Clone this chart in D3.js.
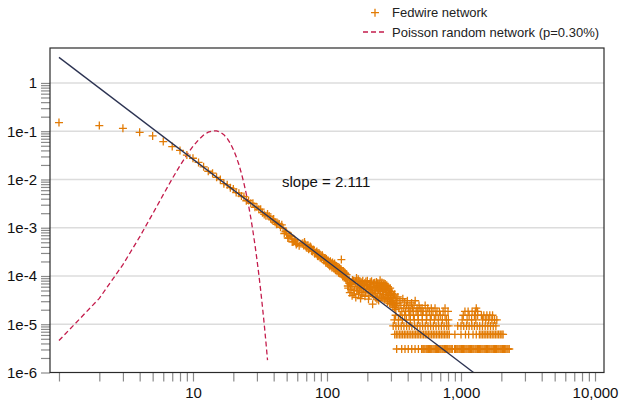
<!DOCTYPE html>
<html>
<head>
<meta charset="utf-8">
<script src="https://cdn.jsdelivr.net/npm/d3@7"></script>
<style>
    body { margin: 0; background: #fff; }
    svg { display: block; font-family: "Liberation Sans", Arial, sans-serif; }
</style>
</head>
<body>
<div id="box-div"></div>
<script>
const svgname = 'degree-svg'

// Fedwire degree distribution, low degrees (share of nodes)
const lowDegree = [1, 2, 3, 4, 5, 6, 7, 8, 9, 10]
const lowShare = [0.151, 0.131, 0.115, 0.095, 0.080, 0.061, 0.048, 0.040, 0.032, 0.0275]

// degrees 11 - 140, [degree, share]
const midPoints = [
    [11, 0.0225], [12, 0.0183], [13, 0.0148], [14, 0.0135], [15, 0.0111], [16, 0.00995], [17, 0.00818],
    [18, 0.00776], [19, 0.00676], [20, 0.00637], [21, 0.00536], [22, 0.0052], [23, 0.00452], [24, 0.00443],
    [25, 0.00362], [26, 0.00366], [27, 0.00322], [28, 0.0032], [29, 0.00265], [30, 0.0027], [31, 0.00241],
    [32, 0.00242], [33, 0.00205], [34, 0.00189], [35, 0.00178], [36, 0.00193], [37, 0.00174], [38, 0.00153],
    [39, 0.00145], [40, 0.00151], [41, 0.0013], [42, 0.00118], [43, 0.00123], [44, 0.0012], [45, 0.00102],
    [46, 0.00115], [47, 0.00098], [48, 0.00076], [49, 0.000836], [50, 0.000764], [51, 0.00061], [52, 0.000612],
    [53, 0.000692], [54, 0.000665], [55, 0.000508], [56, 0.000512], [57, 0.000566], [58, 0.000533], [59, 0.000449],
    [60, 0.000474], [62, 0.000423], [64, 0.000465], [66, 0.000478], [68, 0.000504], [70, 0.000394], [72, 0.000426],
    [74, 0.000384], [76, 0.000389], [78, 0.000321], [80, 0.000341], [82, 0.000295], [84, 0.000322], [86, 0.000255],
    [88, 0.000279], [90, 0.000248], [92, 0.000272], [94, 0.000216], [96, 0.000237], [98, 0.000189], [100, 0.000213],
    [102, 0.000209], [104, 0.000171], [106, 0.000202], [108, 0.000165], [110, 0.000191], [112, 0.00016], [114, 0.000181],
    [116, 0.000132], [118, 0.000161], [120, 0.000145], [122, 0.000116], [124, 0.000148], [126, 0.000125], [128, 0.000219],
    [128, 0.000129], [130, 0.000106], [132, 0.000127], [134, 0.000105], [136, 0.000116], [138, 0.0000897], [140, 0.000107],
    [67, 0.00043], [69, 0.00045], [71, 0.00038], [73, 0.00036], [75, 0.00041], [77, 0.00033], [79, 0.00035],
    [81, 0.00029], [83, 0.00031], [85, 0.00026], [87, 0.0003], [89, 0.00024], [91, 0.00023], [93, 0.00025],
    [95, 0.00021], [97, 0.00022], [99, 0.000225], [101, 0.00018], [103, 0.000195], [105, 0.00016], [107, 0.000185],
    [109, 0.000148], [111, 0.000172], [113, 0.000142], [115, 0.000165], [117, 0.000148], [119, 0.000125], [121, 0.000152],
    [123, 0.000131], [125, 0.000112], [127, 0.00014], [129, 0.000118], [131, 0.000098], [133, 0.000122], [135, 0.000094],
    [137, 0.000112], [139, 0.000085]
]

// bump between degree 140 and 330
const bumpPoints = [
    [142, 7.9e-5], [144, 5.6e-5], [146, 8.5e-5], [148, 4.5e-5], [150, 6.6e-5], [152, 7.3e-5], [154, 3.9e-5],
    [156, 6.0e-5], [158, 8.0e-5], [160, 5.0e-5], [162, 6.8e-5], [164, 3.6e-5], [166, 9.1e-5], [168, 5.4e-5],
    [170, 7.0e-5], [172, 4.2e-5], [174, 6.2e-5], [176, 7.6e-5], [178, 3.4e-5], [180, 5.7e-5], [183, 7.2e-5],
    [186, 4.6e-5], [189, 6.4e-5], [192, 3.8e-5], [195, 7.7e-5], [198, 5.2e-5], [201, 6.6e-5], [204, 3.3e-5],
    [207, 5.9e-5], [210, 7.4e-5], [213, 4.4e-5], [216, 6.1e-5], [219, 2.6e-5], [222, 7.1e-5], [225, 4.9e-5],
    [228, 5.8e-5], [231, 3.6e-5], [234, 7.5e-5], [237, 4.3e-5], [240, 6.3e-5], [243, 3.1e-5], [246, 5.5e-5],
    [249, 8.2e-5], [252, 4.8e-5], [255, 6.5e-5], [258, 3.5e-5], [261, 5.9e-5], [264, 4.1e-5], [267, 7.0e-5],
    [270, 3.2e-5], [273, 5.3e-5], [276, 4.5e-5], [279, 6.4e-5], [282, 2.9e-5], [285, 6.0e-5], [288, 3.9e-5],
    [291, 5.1e-5], [294, 3.0e-5], [297, 4.4e-5], [300, 2.6e-5], [303, 4.8e-5], [306, 3.4e-5], [310, 2.4e-5],
    [314, 4.0e-5], [318, 2.2e-5], [322, 3.1e-5], [326, 2.0e-5], [330, 2.7e-5],
    [143, 6.2e-5], [147, 7.0e-5], [151, 5.2e-5], [155, 8.3e-5], [159, 4.2e-5], [163, 7.6e-5], [167, 4.9e-5],
    [171, 8.6e-5], [175, 5.1e-5], [179, 6.8e-5], [182, 4.0e-5], [185, 8.0e-5], [188, 5.5e-5], [191, 7.1e-5],
    [194, 4.7e-5], [197, 6.2e-5], [200, 8.0e-5], [203, 5.3e-5], [206, 4.0e-5], [209, 6.8e-5], [212, 5.6e-5],
    [215, 7.8e-5], [218, 4.6e-5], [221, 6.0e-5], [224, 3.8e-5], [227, 7.2e-5], [230, 5.0e-5], [233, 6.0e-5],
    [236, 3.3e-5], [239, 7.0e-5], [242, 5.2e-5], [245, 6.8e-5], [248, 4.0e-5], [251, 6.2e-5], [254, 3.7e-5],
    [257, 7.3e-5], [260, 5.0e-5], [263, 6.5e-5], [266, 3.4e-5], [269, 5.7e-5], [272, 6.8e-5], [275, 3.6e-5],
    [278, 5.0e-5], [281, 4.2e-5], [284, 3.3e-5], [287, 5.4e-5], [290, 4.0e-5], [293, 2.7e-5], [296, 5.6e-5],
    [299, 3.6e-5], [302, 3.0e-5], [305, 4.3e-5], [308, 2.8e-5], [312, 3.5e-5], [316, 2.6e-5], [320, 4.2e-5],
    [324, 2.4e-5], [328, 3.4e-5]
]

// tail: share of a single node
const nodeShare = 3.07e-6
// degrees held by exactly one, two, three, four, five nodes
const onceDegrees = [331, 361, 382, 404, 429, 454, 481, 508, 519, 528, 538, 550, 560, 571, 582, 594, 605, 618, 630,
    643, 655, 668, 681, 695, 708, 723, 736, 752, 766, 782, 796, 813, 828, 845, 861, 895, 912, 931, 948, 968, 986,
    1007, 1026, 1047, 1067, 1089, 1109, 1132, 1153, 1178, 1199, 1225, 1247, 1274, 1297, 1324, 1349, 1377, 1403, 1432,
    1459, 1489, 1517, 1549, 1578, 1611, 1641, 1675, 1706, 1742, 1774, 1811, 1845, 1884, 1919, 1959, 1995, 2037,
    2075, 2118, 2158, 2203, 2244, 2291]
const twiceDegrees = [320, 329, 338, 348, 357, 367, 378, 388, 399, 410, 422, 434, 446, 458, 471, 484, 498, 512, 526,
    541, 556, 571, 587, 604, 621, 638, 656, 675, 693, 713, 733, 753, 774, 796, 818, 900, 1000, 1080, 1140, 1230,
    1300, 1371, 1409, 1449, 1489, 1531, 1574, 1618, 1663, 1710, 1758, 1807, 1858, 1910, 1963, 2018, 2061]
const thriceDegrees = [312, 327, 342, 358, 375, 393, 411, 430, 451, 472, 494, 517, 541, 567, 594, 622, 651, 682,
    714, 748, 783, 810, 945, 1000, 1048, 1100, 1150, 1205, 1260, 1320, 1380, 1445, 1515, 1585, 1660, 1740, 1820]
const fourDegrees = [318, 341, 365, 391, 419, 448, 480, 514, 551, 590, 632, 677, 725, 777, 805, 1020, 1110, 1200,
    1290, 1450, 1530, 1610, 1700, 1780, 1850]
const fiveDegrees = [325, 352, 380, 410, 442, 477, 515, 556, 600, 648, 700, 760, 1040, 1150, 1260, 1330, 1420,
    1480, 1560, 1640, 1720]
// [degree, number of nodes] for the rest of the tail
const tailCounts = [
    [332, 9], [338, 12], [344, 7], [350, 10], [356, 8], [362, 6], [368, 11], [374, 7], [380, 9], [386, 6], [392, 8],
    [398, 10], [404, 7], [410, 6], [416, 8], [422, 6], [428, 9], [434, 7], [440, 6], [446, 8], [455, 10], [462, 6],
    [470, 7], [478, 6], [486, 8], [494, 7], [503, 6], [512, 7], [522, 6], [540, 8], [548, 6], [565, 7], [580, 6],
    [600, 7], [618, 6], [640, 7], [662, 6], [690, 6], [735, 6], [760, 7], [800, 6], [1070, 6], [1130, 6],
    [1210, 6], [1280, 6], [1300, 7], [1330, 6]
]

// Poisson random network (p=0.30%), degree 1 - 36
const poissonDegree = d3.range(1, 37)
const poissonShare = [4.59e-6, 3.44e-5, 1.72e-4, 6.45e-4, 1.94e-3, 4.84e-3, 1.04e-2, 1.94e-2, 3.24e-2, 4.86e-2,
    6.63e-2, 8.29e-2, 9.56e-2, 0.102, 0.102, 9.60e-2, 8.47e-2, 7.06e-2, 5.58e-2, 4.18e-2, 2.99e-2, 2.04e-2,
    1.33e-2, 8.30e-3, 4.98e-3, 2.87e-3, 1.60e-3, 8.55e-4, 4.42e-4, 2.21e-4, 1.07e-4, 5.02e-5, 2.28e-5, 1.01e-5,
    4.31e-6, 1.80e-6]

// power law fit
const fitSlope = 2.111
const fitScale = 3.39
const fitDegree = [1, 1300]

// axis ticks
const xLabelTicks = [10, 100, 1000, 10000]
const yLabelTicks = [1, 1e-1, 1e-2, 1e-3, 1e-4, 1e-5, 1e-6]

const legendItems = ['Fedwire network', 'Poisson random network (p=0.30%)']

const colors = {
    fed: '#e27b05',
    poisson: '#c41c4c',
    fit: '#2c3352',
    grid: '#dcdcdc',
    tick: '#8a8a8a',
    frame: '#2a2a2a'
}

let dms = {
    width: 620,
    height: 401,
    margin: { top: 48, right: 16, bottom: 28.5, left: 50 }
}
dms.chartWidth = dms.width - dms.margin.left - dms.margin.right
dms.chartHeight = dms.height - dms.margin.top - dms.margin.bottom

const box = d3.select('#box-div').append('svg')
    .attr('id', svgname)
    .attr('width', dms.width)
    .attr('height', dms.height)

const content = box.append('g')
    .attr('transform', `translate(${dms.margin.left}, ${dms.margin.top})`)

// scales
const xScale = d3.scaleLog()
    .domain([0.857, 11670])
    .range([0, dms.chartWidth])
const yScale = d3.scaleLog()
    .domain([1e-6, 5.3])
    .range([dms.chartHeight, 0])

// minor ticks 1..9 per decade
const xMinor = []
for (let e = 0; e < 4; e++) for (let m = 1; m <= 9; m++) xMinor.push(m * Math.pow(10, e))
xMinor.push(10000)
const yMinor = []
for (let e = -6; e < 0; e++) for (let m = 1; m <= 9; m++) yMinor.push(m * Math.pow(10, e))
yMinor.push(1)

content.append('defs').append('clipPath').attr('id', 'plot-clip')
    .append('rect')
    .attr('width', dms.chartWidth)
    .attr('height', dms.chartHeight)

// gridlines
content.append('g')
    .selectAll('line')
    .data(yLabelTicks.slice(0, 6))
    .enter()
    .append('line')
    .attr('x1', 0)
    .attr('x2', dms.chartWidth)
    .attr('y1', d => yScale(d))
    .attr('y2', d => yScale(d))
    .attr('stroke', colors.grid)
    .attr('stroke-width', 1.5)

// tick marks
const xTickAxis = d3.axisBottom(xScale).tickValues(xMinor).tickSize(9).tickFormat('')
const yTickAxis = d3.axisLeft(yScale).tickValues(yMinor).tickSize(9).tickFormat('')
content.append('g')
    .attr('class', 'axis-x')
    .attr('transform', `translate(0, ${dms.chartHeight})`)
    .call(xTickAxis)
content.append('g')
    .attr('class', 'axis-y')
    .call(yTickAxis)
d3.selectAll('.axis-x .domain, .axis-y .domain').remove()
d3.selectAll('.axis-x .tick line, .axis-y .tick line')
    .attr('stroke', colors.tick)
    .attr('stroke-width', 1.2)

// tick labels
const xLabelAxis = d3.axisBottom(xScale).tickValues(xLabelTicks).tickSize(0).tickPadding(15).tickFormat(d3.format(','))
const yLabelAxis = d3.axisLeft(yScale).tickValues(yLabelTicks).tickSize(0).tickPadding(13)
    .tickFormat(d => d === 1 ? '1' : '1e' + Math.round(Math.log10(d)))
content.append('g')
    .attr('class', 'label-x')
    .attr('transform', `translate(0, ${dms.chartHeight})`)
    .call(xLabelAxis)
content.append('g')
    .attr('class', 'label-y')
    .call(yLabelAxis)
d3.selectAll('.label-x .domain, .label-y .domain').remove()
d3.selectAll('.label-x text, .label-y text')
    .attr('fill', '#111')
    .style('font-size', '15px')
    .style('font-family', '"Liberation Sans", Arial, sans-serif')

const plot = content.append('g').attr('clip-path', 'url(#plot-clip)')

// Poisson curve
const line = d3.line()
    .x(d => xScale(d[0]))
    .y(d => yScale(d[1]))
plot.append('path')
    .datum(poissonDegree.map((k, i) => [k, poissonShare[i]]))
    .attr('d', line)
    .attr('fill', 'none')
    .attr('stroke', colors.poisson)
    .attr('stroke-width', 1.3)
    .attr('stroke-dasharray', '5,3')

// Fedwire points
let fedPoints = lowDegree.map((k, i) => [k, lowShare[i]])
    .concat(midPoints, bumpPoints)
const countRows = [onceDegrees, twiceDegrees, thriceDegrees, fourDegrees, fiveDegrees]
countRows.forEach((row, i) => {
    row.forEach(k => fedPoints.push([k, (i + 1) * nodeShare]))
})
tailCounts.forEach(d => fedPoints.push([d[0], d[1] * nodeShare]))

const cross = 'M-4,0H4M0,-4V4'
plot.append('g')
    .selectAll('path')
    .data(fedPoints)
    .enter()
    .append('path')
    .attr('d', cross)
    .attr('transform', d => `translate(${xScale(d[0])}, ${yScale(d[1])})`)
    .attr('stroke', colors.fed)
    .attr('stroke-width', 1.3)
    .attr('fill', 'none')

// power law line
plot.append('path')
    .datum(fitDegree.map(k => [k, fitScale * Math.pow(k, -fitSlope)]))
    .attr('d', line)
    .attr('fill', 'none')
    .attr('stroke', colors.fit)
    .attr('stroke-width', 1.3)

// frame
content.append('rect')
    .attr('width', dms.chartWidth)
    .attr('height', dms.chartHeight)
    .attr('fill', 'none')
    .attr('stroke', colors.frame)
    .attr('stroke-width', 1.2)

// slope label
content.append('text')
    .attr('x', 232)
    .attr('y', 139)
    .attr('fill', '#111')
    .style('font-size', '15px')
    .text(`slope = ${fitSlope}`)

// legend
const legend = box.append('g')
    .attr('transform', 'translate(362, 0)')
legend.append('path')
    .attr('d', cross)
    .attr('transform', 'translate(13, 12.7)')
    .attr('stroke', colors.fed)
    .attr('stroke-width', 1.3)
legend.append('line')
    .attr('x1', 1)
    .attr('x2', 23)
    .attr('y1', 32)
    .attr('y2', 32)
    .attr('stroke', colors.poisson)
    .attr('stroke-width', 1.3)
    .attr('stroke-dasharray', '5,3')
legend.selectAll('.legend-text')
    .data(legendItems)
    .enter()
    .append('text')
    .attr('class', 'legend-text')
    .attr('x', 30)
    .attr('y', (d, i) => 17.4 + i * 19.3)
    .attr('fill', '#222')
    .style('font-size', '13px')
    .text(d => d)
</script>
</body>
</html>
